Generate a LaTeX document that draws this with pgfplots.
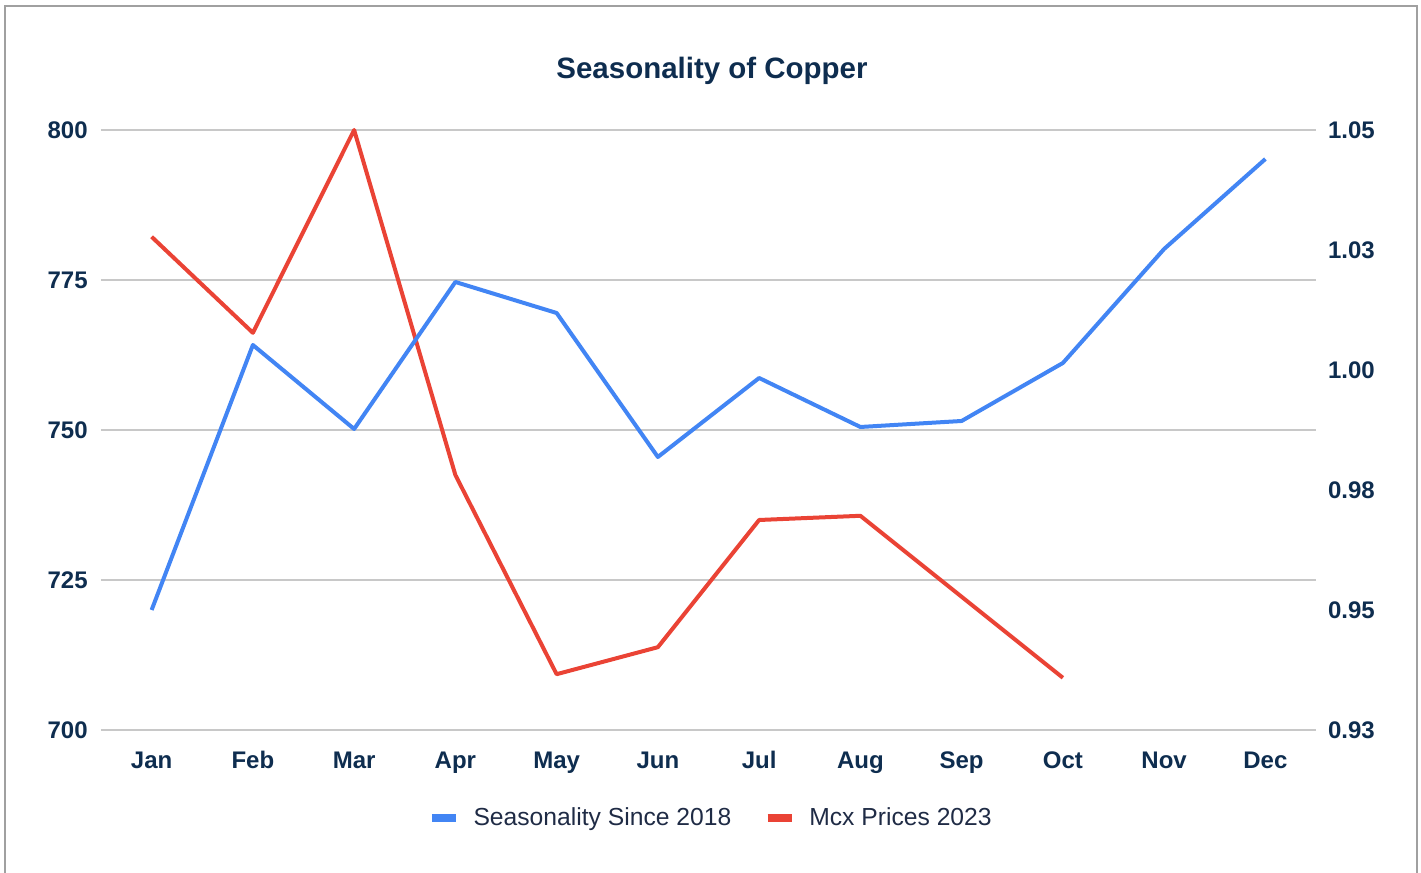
\documentclass[border=0pt]{standalone}
\usepackage{pgfplots}
\pgfplotsset{compat=1.18}
\usepackage{fontspec}
\setmainfont{Liberation Sans}
\definecolor{sblue}{HTML}{4285F4}
\definecolor{sred}{HTML}{EA4335}
\definecolor{navy}{HTML}{0E2D4F}
\definecolor{legtxt}{HTML}{1F2B45}
\definecolor{gridc}{HTML}{C8C8C8}
\definecolor{frame}{HTML}{A0A0A0}
\begin{document}
\begin{tikzpicture}
\path[use as bounding box] (0,0) rectangle (1065.75pt,654.75pt);
\draw[frame, line width=1.5pt] (3.375pt,-2pt) -- (3.375pt,650.25pt) -- (1062.75pt,650.25pt) -- (1062.75pt,-2pt);
\node[font=\bfseries\fontsize{22.1pt}{25pt}\selectfont, text=navy] at (534pt,601.5pt) {Seasonality of Copper};
\begin{axis}[
  at={(75.75pt,107.25pt)}, anchor=south west,
  scale only axis, width=911.25pt, height=450pt,
  xmin=-0.5, xmax=11.5, ymin=700, ymax=800,
  xtick={0,1,2,3,4,5,6,7,8,9,10,11},
  xticklabels={Jan,Feb,Mar,Apr,May,Jun,Jul,Aug,Sep,Oct,Nov,Dec},
  ytick={700,725,750,775,800},
  axis line style={draw=none},
  major tick length=0pt,
  ymajorgrids, grid style={gridc, line width=1.2pt},
  /pgf/number format/assume math mode=true,
  tick label style={font=\bfseries\fontsize{18pt}{21pt}\selectfont, text=navy},
  yticklabel style={xshift=-6.5pt},
  xticklabel style={yshift=-12pt, text height=13pt, text depth=0pt},
  clip=false,
  legend columns=2,
  legend style={at={(0.502,-0.1467)}, anchor=center, draw=none, fill=none,
    font=\fontsize{18.5pt}{21pt}\selectfont, text=legtxt,
    /tikz/every odd column/.append style={column sep=8pt},
    /tikz/every even column/.append style={column sep=22pt}},
  legend cell align=left,
  legend image code/.code={\draw[#1, line width=6.5pt, line cap=butt] (0pt,0pt) -- (18pt,0pt);},
]
\addlegendimage{sblue}
\addlegendentry{Seasonality Since 2018}
\addplot[sred, line width=3pt, line join=round] coordinates {
(0,782.2) (1,766.2) (2,800) (3,742.5) (4,709.3) (5,713.8) (6,735.0) (7,735.7) (8,722.2) (9,708.7)
};
\addlegendentry{Mcx Prices 2023}
\end{axis}
\begin{axis}[
  at={(75.75pt,107.25pt)}, anchor=south west,
  scale only axis, width=911.25pt, height=450pt,
  xmin=-0.5, xmax=11.5, ymin=0.93, ymax=1.05,
  axis x line=none,
  axis y line*=right,
  axis line style={draw=none},
  major tick length=0pt,
  ytick={0.93,0.954,0.978,1.002,1.026,1.05},
  yticklabels={0.93,0.95,0.98,1.00,1.03,1.05},
  tick label style={font=\bfseries\fontsize{18pt}{21pt}\selectfont, text=navy},
  yticklabel style={xshift=5.5pt},
  clip=false,
]
\addplot[sblue, line width=3pt, line join=round] coordinates {
(0,0.954) (1,1.007) (2,0.9902) (3,1.0196) (4,1.0134) (5,0.9846) (6,1.0004) (7,0.9906) (8,0.9918) (9,1.0034) (10,1.0262) (11,1.0442)
};
\end{axis}
\end{tikzpicture}
\end{document}
